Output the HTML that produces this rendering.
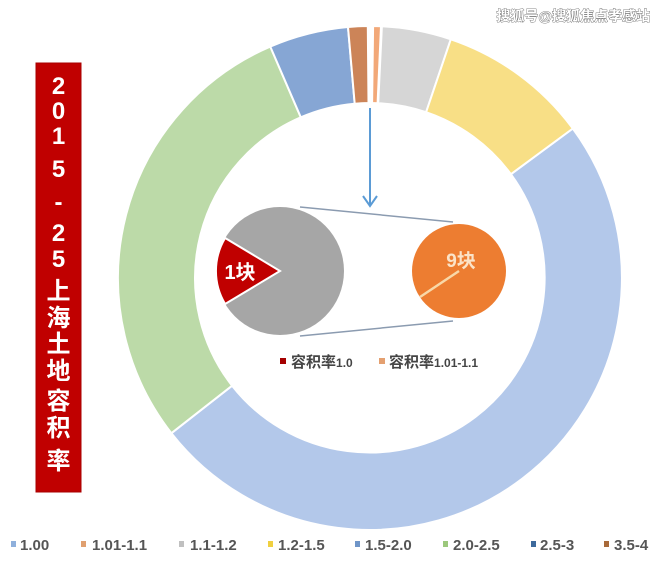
<!DOCTYPE html>
<html><head><meta charset="utf-8"><style>
html,body{margin:0;padding:0;background:#fff;}
body{width:660px;height:566px;overflow:hidden;position:relative;font-family:"Liberation Sans","Noto Sans CJK SC",sans-serif;}
svg{position:absolute;left:0;top:0;}
</style></head><body>
<svg width="660" height="566" viewBox="0 0 660 566" xmlns="http://www.w3.org/2000/svg" font-family="Liberation Sans, Noto Sans CJK SC, sans-serif">
<g stroke="#fff" stroke-width="2">
<path d="M572.8,128.5 A252,252 0 0 1 171.4,433.2 L232.1,385.7 A175,175 0 0 0 510.9,174.2 Z" fill="#b3c8ea"/>
<path d="M171.4,433.2 A252,252 0 0 1 270.3,46.6 L300.8,117.3 A175,175 0 0 0 232.1,385.7 Z" fill="#bcdaa8"/>
<path d="M270.3,46.6 A252,252 0 0 1 348.0,27.0 L354.7,103.7 A175,175 0 0 0 300.8,117.3 Z" fill="#86a6d4"/>
<path d="M348.0,27.0 A252,252 0 0 1 367.8,26.0 L368.5,103.0 A175,175 0 0 0 354.7,103.7 Z" fill="#cc8458"/>
<path d="M373.1,26.0 A252,252 0 0 1 381.0,26.2 L377.6,103.2 A175,175 0 0 0 372.1,103.0 Z" fill="#f2a878"/>
<path d="M381.9,26.3 A252,252 0 0 1 450.8,39.3 L426.1,112.2 A175,175 0 0 0 378.2,103.2 Z" fill="#d6d6d6"/>
<path d="M450.8,39.3 A252,252 0 0 1 572.8,128.5 L510.9,174.2 A175,175 0 0 0 426.1,112.2 Z" fill="#f8df86"/>
</g>
<!-- arrow -->
<line x1="370" y1="108" x2="370" y2="205" stroke="#5b9bd5" stroke-width="2"/>
<polyline points="363,196 370,206 377,196" fill="none" stroke="#5b9bd5" stroke-width="2"/>
<!-- connectors -->
<line x1="300" y1="207" x2="453" y2="222" stroke="#8b9bb0" stroke-width="1.5"/>
<line x1="300" y1="336" x2="453" y2="321" stroke="#8b9bb0" stroke-width="1.5"/>
<!-- gray pie -->
<circle cx="280" cy="271" r="64" fill="#a6a6a6"/>
<path d="M280,271 L225.1,238 A64,64 0 0 0 225.1,304 Z" fill="#c00000" stroke="#fff" stroke-width="2"/>
<text x="240" y="279" font-size="20" font-weight="bold" fill="#fff" text-anchor="middle">1块</text>
<!-- orange pie -->
<circle cx="459" cy="271" r="47" fill="#ed7d31"/>
<line x1="459" y1="271" x2="420" y2="297" stroke="#f8d8a8" stroke-width="2.5"/>
<text x="461" y="267" font-size="19" font-weight="bold" fill="#fbe3c8" text-anchor="middle">9块</text>
<!-- inner legend -->
<rect x="280" y="358" width="6" height="6" fill="#a50000"/>
<text x="291" y="367" font-size="15" font-weight="bold" fill="#444">容积率<tspan font-size="12">1.0</tspan></text>
<rect x="379" y="358" width="6" height="6" fill="#e4a070"/>
<text x="389" y="367" font-size="15" font-weight="bold" fill="#444">容积率<tspan font-size="12">1.01-1.1</tspan></text>
<!-- title box -->
<rect x="36" y="63" width="45" height="429" fill="#c00000" stroke="#a80000" stroke-width="1"/>
<g font-size="24" font-weight="bold" fill="#fff" text-anchor="middle">
<text x="58.5" y="94">2</text><text x="58.5" y="119">0</text><text x="58.5" y="144">1</text><text x="58.5" y="177">5</text>
<text x="58.5" y="210">-</text><text x="58.5" y="241">2</text><text x="58.5" y="267">5</text>
<text x="58.5" y="299">上</text><text x="58.5" y="326">海</text><text x="58.5" y="352">土</text><text x="58.5" y="379">地</text>
<text x="58.5" y="409">容</text><text x="58.5" y="436">积</text><text x="58.5" y="469">率</text>
</g>
<!-- bottom legend -->
<g font-size="15" font-weight="bold" fill="#555">
<rect x="11" y="541" width="5" height="6" fill="#8fb0dc"/><text x="20" y="550">1.00</text>
<rect x="81" y="541" width="5" height="6" fill="#e0a070"/><text x="92" y="550">1.01-1.1</text>
<rect x="179" y="541" width="5" height="6" fill="#c0c0c0"/><text x="190" y="550">1.1-1.2</text>
<rect x="268" y="541" width="5" height="6" fill="#f0d040"/><text x="278" y="550">1.2-1.5</text>
<rect x="355" y="541" width="5" height="6" fill="#6f95c8"/><text x="365" y="550">1.5-2.0</text>
<rect x="443" y="541" width="5" height="6" fill="#9cc87c"/><text x="453" y="550">2.0-2.5</text>
<rect x="531" y="541" width="5" height="6" fill="#3d6a9c"/><text x="540" y="550">2.5-3</text>
<rect x="604" y="541" width="5" height="6" fill="#a86a3a"/><text x="614" y="550">3.5-4</text>
</g>
<!-- watermark -->
<text x="650" y="21" font-size="14" font-weight="bold" fill="#fff" stroke="#666" stroke-width="0.8" paint-order="stroke" text-anchor="end">搜狐号@搜狐焦点孝感站</text>
</svg>
</body></html>
